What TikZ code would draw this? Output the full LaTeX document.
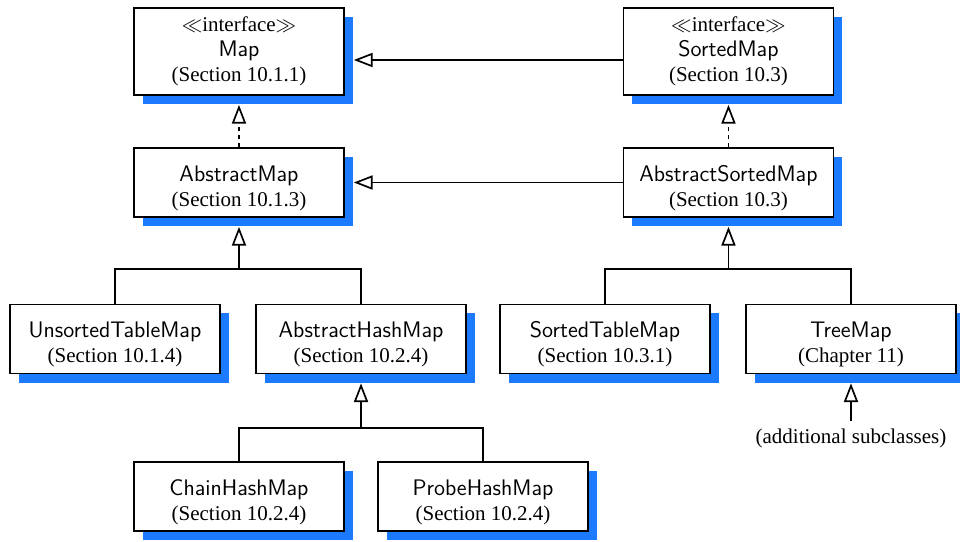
\documentclass[tikz,border=0pt]{standalone}
\usepackage{fontspec}
\setmainfont{Liberation Serif}
\usetikzlibrary{arrows.meta,shadows}
\definecolor{shadowblue}{RGB}{28,122,255}
\newcommand\cname[1]{{\sffamily\fontsize{12}{13.3}\selectfont #1}}
\newcommand\topname[1]{\rule{0pt}{14.5pt}\cname{#1}}

\begin{document}
\begin{tikzpicture}[line width=0.9pt,font=\fontsize{11.2}{13.3}\selectfont,
  basebox/.style={draw,fill=white,align=center,inner sep=2pt,minimum width=3.9375cm,
    drop shadow={shadow xshift=0.169cm,shadow yshift=-0.169cm,fill=shadowblue,opacity=1}},
  box/.style={basebox,minimum height=1.294cm},
  tall/.style={basebox,minimum height=1.631cm},
  inh/.style={-{Triangle[open,length=10pt,width=7.5pt]}}]
\useasboundingbox (0,0) rectangle (18,10.144);
\node[tall] (map) at (4.481,9.178) {$\ll$interface$\gg$\\ \cname{Map}\\ (Section 10.1.1)};
\node[tall] (smap) at (13.659,9.178) {$\ll$interface$\gg$\\ \cname{SortedMap}\\ (Section 10.3)};
\node[box] (amap) at (4.481,6.722) {\topname{AbstractMap}\\ (Section 10.1.3)};
\node[box] (asmap) at (13.659,6.722) {\topname{AbstractSortedMap}\\ (Section 10.3)};
\node[box] (utm) at (2.156,3.788) {\topname{UnsortedTableMap}\\ (Section 10.1.4)};
\node[box] (ahm) at (6.769,3.788) {\topname{AbstractHashMap}\\ (Section 10.2.4)};
\node[box] (stm) at (11.344,3.788) {\topname{SortedTableMap}\\ (Section 10.3.1)};
\node[box] (tm) at (15.956,3.788) {\topname{TreeMap}\\ (Chapter 11)};
\node[box] (chm) at (4.481,0.834) {\topname{ChainHashMap}\\ (Section 10.2.4)};
\node[box] (phm) at (9.056,0.834) {\topname{ProbeHashMap}\\ (Section 10.2.4)};
\node (more) at (15.956,1.931) {(additional subclasses)};
% junctions
\coordinate (j1) at (4.481,5.1);
\coordinate (j2) at (13.659,5.1);
\coordinate (j3) at (6.769,2.119);
% interfaces
\draw[inh] ([yshift=-0.159cm]smap.west) -- ([xshift=0.169cm,yshift=-0.159cm]map.east);
\draw[inh] (asmap.west) -- ([xshift=0.169cm]amap.east);
\draw[inh,dash pattern=on 2.2pt off 2.2pt] (amap.north) -- ([yshift=-0.169cm]map.south);
\draw[inh,dash pattern=on 2.2pt off 2.2pt] (asmap.north) -- ([yshift=-0.169cm]smap.south);
% subclasses
\draw (utm.north) |- (j1) -| (ahm.north);
\draw[inh] (j1) -- ([yshift=-0.169cm]amap.south);
\draw (stm.north) |- (j2) -| (tm.north);
\draw[inh] (j2) -- ([yshift=-0.169cm]asmap.south);
\draw (chm.north) |- (j3) -| (phm.north);
\draw[inh] (j3) -- ([yshift=-0.169cm]ahm.south);
\draw[inh] (more.north) -- ([yshift=-0.169cm]tm.south);
\end{tikzpicture}
\end{document}
